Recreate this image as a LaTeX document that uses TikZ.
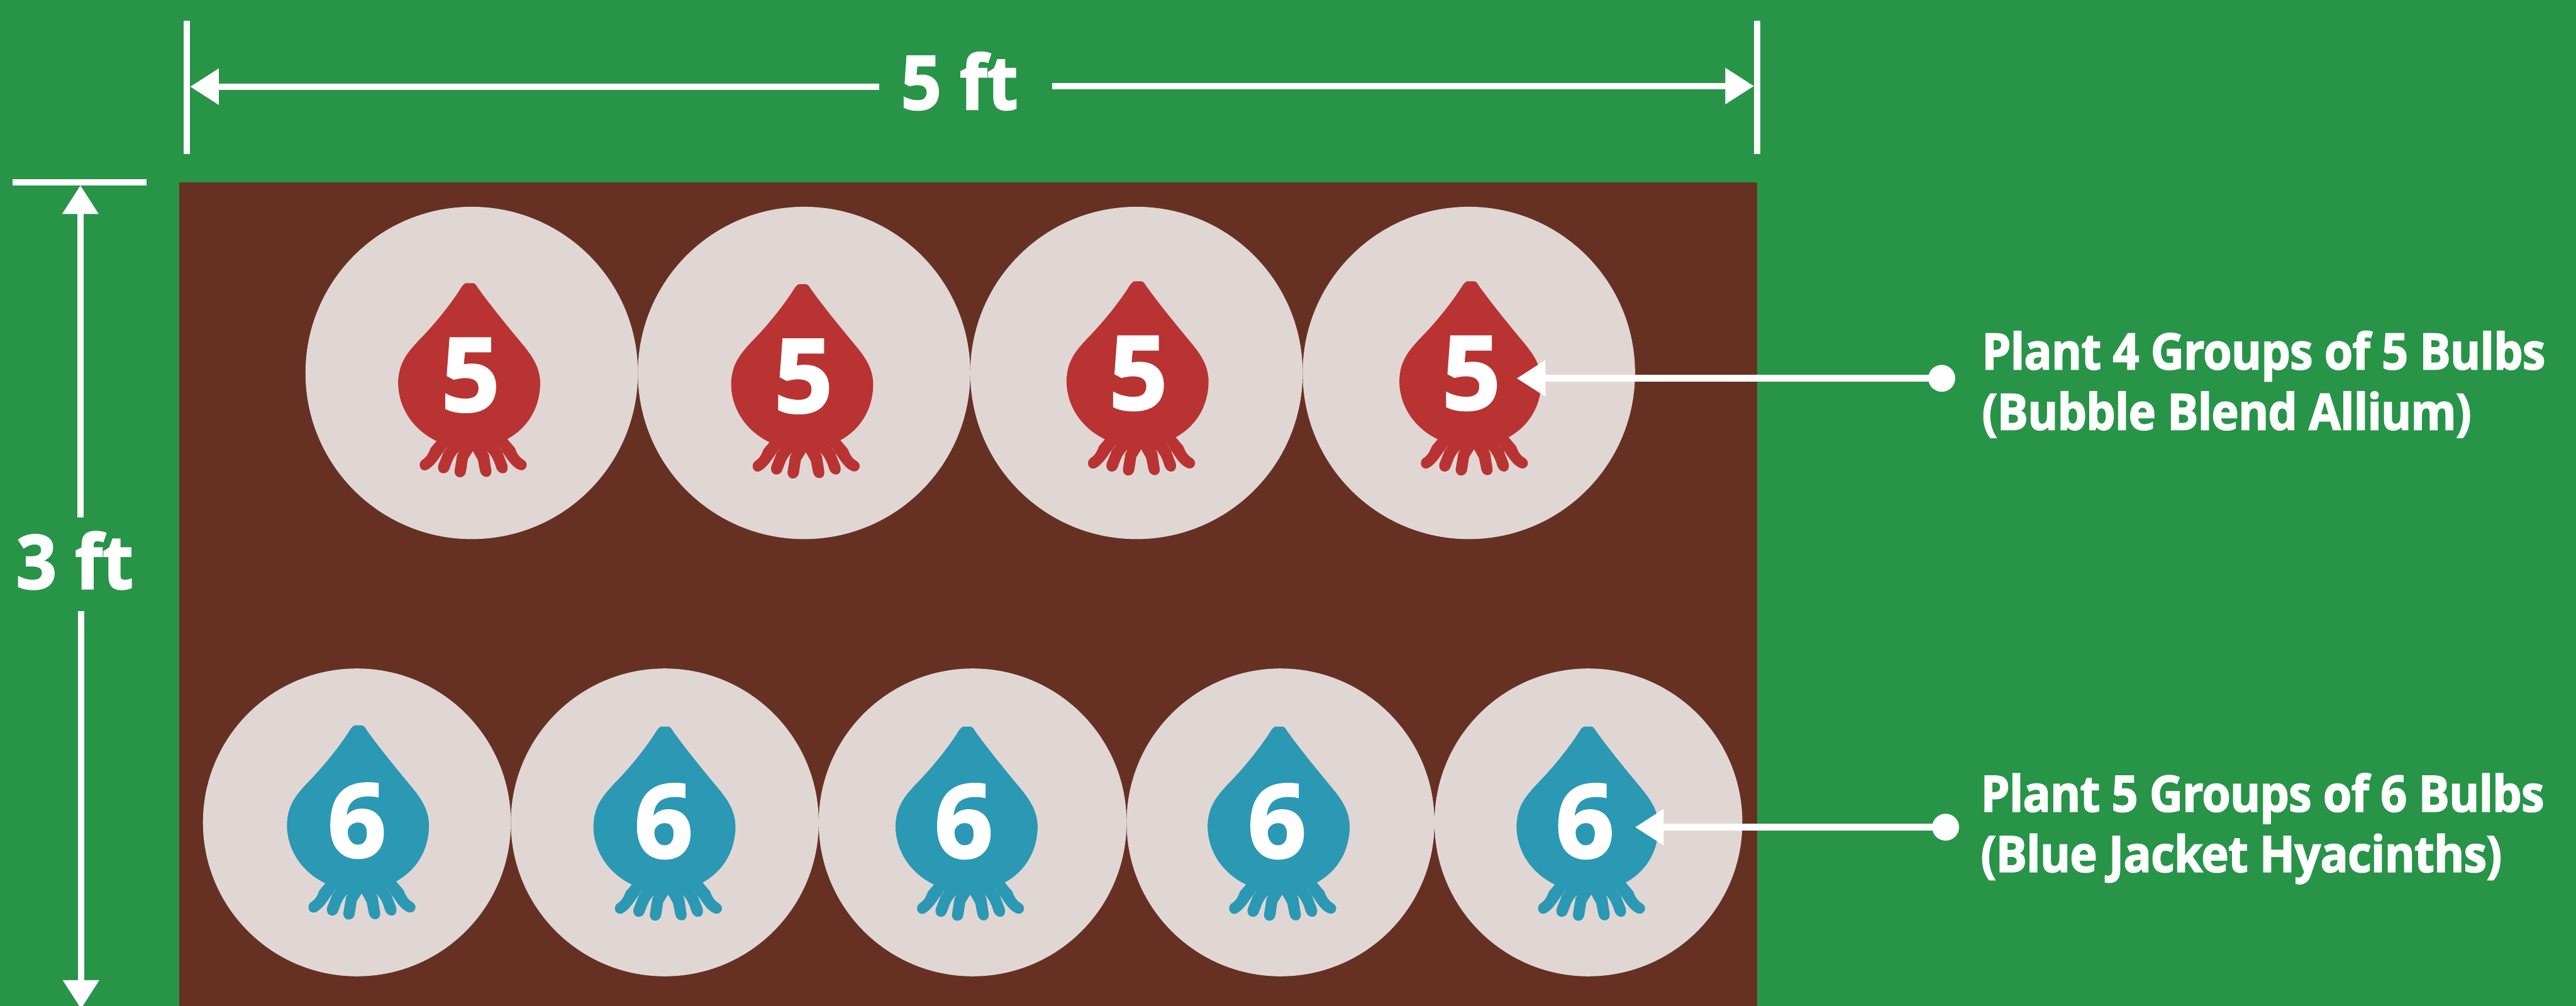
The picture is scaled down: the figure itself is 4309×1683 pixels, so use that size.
\documentclass[tikz,border=0pt]{standalone}
\usepackage{fontspec}
\setmainfont[BoldFont={Open Sans Bold}]{Open Sans}
\newfontfamily\lblfont[FakeStretch=0.92,FakeBold=2,LetterSpace=-1]{Open Sans Bold}
\newfontfamily\numfont[FakeStretch=1.0,FakeBold=2]{Open Sans Bold}
\newfontfamily\dimfont[FakeStretch=0.95,FakeBold=2]{Open Sans Bold}
\usetikzlibrary{arrows.meta}
\definecolor{grass}{HTML}{279448}
\definecolor{soil}{HTML}{663123}
\definecolor{disc}{HTML}{E0D7D5}
\definecolor{redbulb}{HTML}{B93333}
\definecolor{bluebulb}{HTML}{2B98B4}
\tikzset{
  tickline/.style={white,line width=11pt},
  dimarrow/.style={white,line width=11pt,-{Triangle[length=48pt,width=58pt]}},
  disc5/.style={circle,fill=disc,inner sep=0pt,minimum size=556pt},
  disc6/.style={circle,fill=disc,inner sep=0pt,minimum size=515pt},
  digit/.style={anchor=base,text=white,inner sep=0pt,font=\numfont\fontsize{171}{171}\selectfont},
  dimtext/.style={anchor=base,text=white,inner sep=0pt,font=\dimfont\fontsize{125}{125}\selectfont},
  lbl/.style={anchor=base west,text=white,inner sep=0pt,font=\lblfont\fontsize{84}{84}\selectfont},
  dot/.style={circle,fill=white,inner sep=0pt,minimum size=45pt}
}
% bulb outline, drawn in units of 1/3 px, origin moved to its tip
\newcommand{\bulb}[3]{%
\begin{scope}[shift={(#1-160.67,#2-40)},x=0.3333pt,y=-0.3333pt]
\fill[#3] (460,122) .. controls (445,132) and (440,142) .. (430,158)
 .. controls (380,235) and (300,335) .. (225,410)
 .. controls (170,470) and (125,520) .. (122,620)
 .. controls (122,750) and (200,860) .. (315,915)
 -- (285,950) .. controls (270,990) and (258,1000) .. (240,1012)
 .. controls (215,1035) and (240,1080) .. (275,1055)
 .. controls (320,1025) and (340,970) .. (378,935)
 -- (350,970) -- (324,1035)
 .. controls (312,1085) and (370,1090) .. (380,1052)
 .. controls (392,1020) and (400,990) .. (430,965)
 -- (418,985) -- (405,1065)
 .. controls (405,1110) and (460,1105) .. (463,1065)
 -- (472,1005) -- (497,965)
 -- (522,1010) -- (533,1065)
 .. controls (540,1105) and (592,1105) .. (590,1065)
 -- (578,985) -- (568,965)
 .. controls (595,990) and (605,1020) .. (615,1052)
 .. controls (630,1090) and (682,1085) .. (670,1035)
 -- (645,970) -- (612,925)
 .. controls (650,965) and (675,1030) .. (720,1055)
 .. controls (755,1078) and (785,1035) .. (755,1012)
 .. controls (735,1000) and (720,985) .. (708,950)
 -- (670,905)
 .. controls (770,850) and (835,750) .. (835,620)
 .. controls (832,530) and (780,470) .. (730,410)
 .. controls (660,325) and (590,240) .. (525,150)
 .. controls (515,135) and (510,125) .. (500,122)
 -- cycle;
\end{scope}}
\begin{document}
\begin{tikzpicture}[x=1pt,y=-1pt]
\useasboundingbox (0,0) rectangle (4309,1683);
\fill[grass] (0,0) rectangle (4309,1683);
\fill[soil] (300,305) rectangle (2939,1690);
% discs
\foreach \n/\cx in {a/789,b/1345,c/1901,d/2457}
  \node[disc5] (disc\n) at (\cx,624) {};
\foreach \n/\cx in {e/597,f/1112,g/1627,h/2142,i/2657}
  \node[disc6] (disc\n) at (\cx,1376) {};
% top bulbs
\bulb{786}{473}{redbulb}
\bulb{1343}{475}{redbulb}
\bulb{1904}{470}{redbulb}
\bulb{2460.7}{470}{redbulb}
\node[digit] (n5a) at (787,688) {5};
\node[digit] (n5b) at (1344,690) {5};
\node[digit] (n5c) at (1904,685) {5};
\node[digit] (n5d) at (2461,685) {5};
% bottom bulbs
\bulb{600}{1213}{bluebulb}
\bulb{1112.6}{1215}{bluebulb}
\bulb{1618}{1215}{bluebulb}
\bulb{2140}{1215}{bluebulb}
\bulb{2656.7}{1215}{bluebulb}
\node[digit] (n6a) at (597,1434) {6};
\node[digit] (n6b) at (1110,1435) {6};
\node[digit] (n6c) at (1612,1435) {6};
\node[digit] (n6d) at (2136,1435) {6};
\node[digit] (n6e) at (2651,1435) {6};
% width dimension
\coordinate (wt1) at (312.5,35);  \coordinate (wb1) at (312.5,258);
\coordinate (wt2) at (2939.5,35); \coordinate (wb2) at (2939.5,258);
\draw[tickline] (wt1) -- (wb1);
\draw[tickline] (wt2) -- (wb2);
\coordinate (wl) at (318,145);   \coordinate (wlg) at (1471,145);
\coordinate (wr) at (2934,144);  \coordinate (wrg) at (1760,144);
\draw[dimarrow] (wlg) -- (wl);
\draw[dimarrow] (wrg) -- (wr);
\node[dimtext] (widthtxt) at (1605,183) {5 ft};
% height dimension
\coordinate (hl) at (21,305); \coordinate (hr) at (245,305);
\draw[tickline] (hl) -- (hr);
\coordinate (ht) at (134.5,310);  \coordinate (htg) at (134.5,866);
\coordinate (hb) at (135.5,1688); \coordinate (hbg) at (135.5,1023);
\draw[dimarrow] (htg) -- (ht);
\draw[dimarrow] (hbg) -- (hb);
\node[dimtext] (heighttxt) at (125,985) {3 ft};
% pointers
\node[dot] (dot5) at (3248,633) {};
\node[dot] (dot6) at (3254.5,1384) {};
\coordinate (tip5) at (2537,633);
\coordinate (tip6) at (2735,1384);
\draw[dimarrow] (dot5.center) -- (tip5);
\draw[dimarrow] (dot6.center) -- (tip6);
% labels
\node[lbl] (l5a) at (3315,618) {Plant 4 Groups of 5 Bulbs};
\node[lbl] (l5b) at (3315,719) {(Bubble Blend Allium)};
\node[lbl] (l6a) at (3313,1358) {Plant 5 Groups of 6 Bulbs};
\node[lbl] (l6b) at (3313,1459) {(Blue Jacket Hyacinths)};
\end{tikzpicture}
\end{document}
